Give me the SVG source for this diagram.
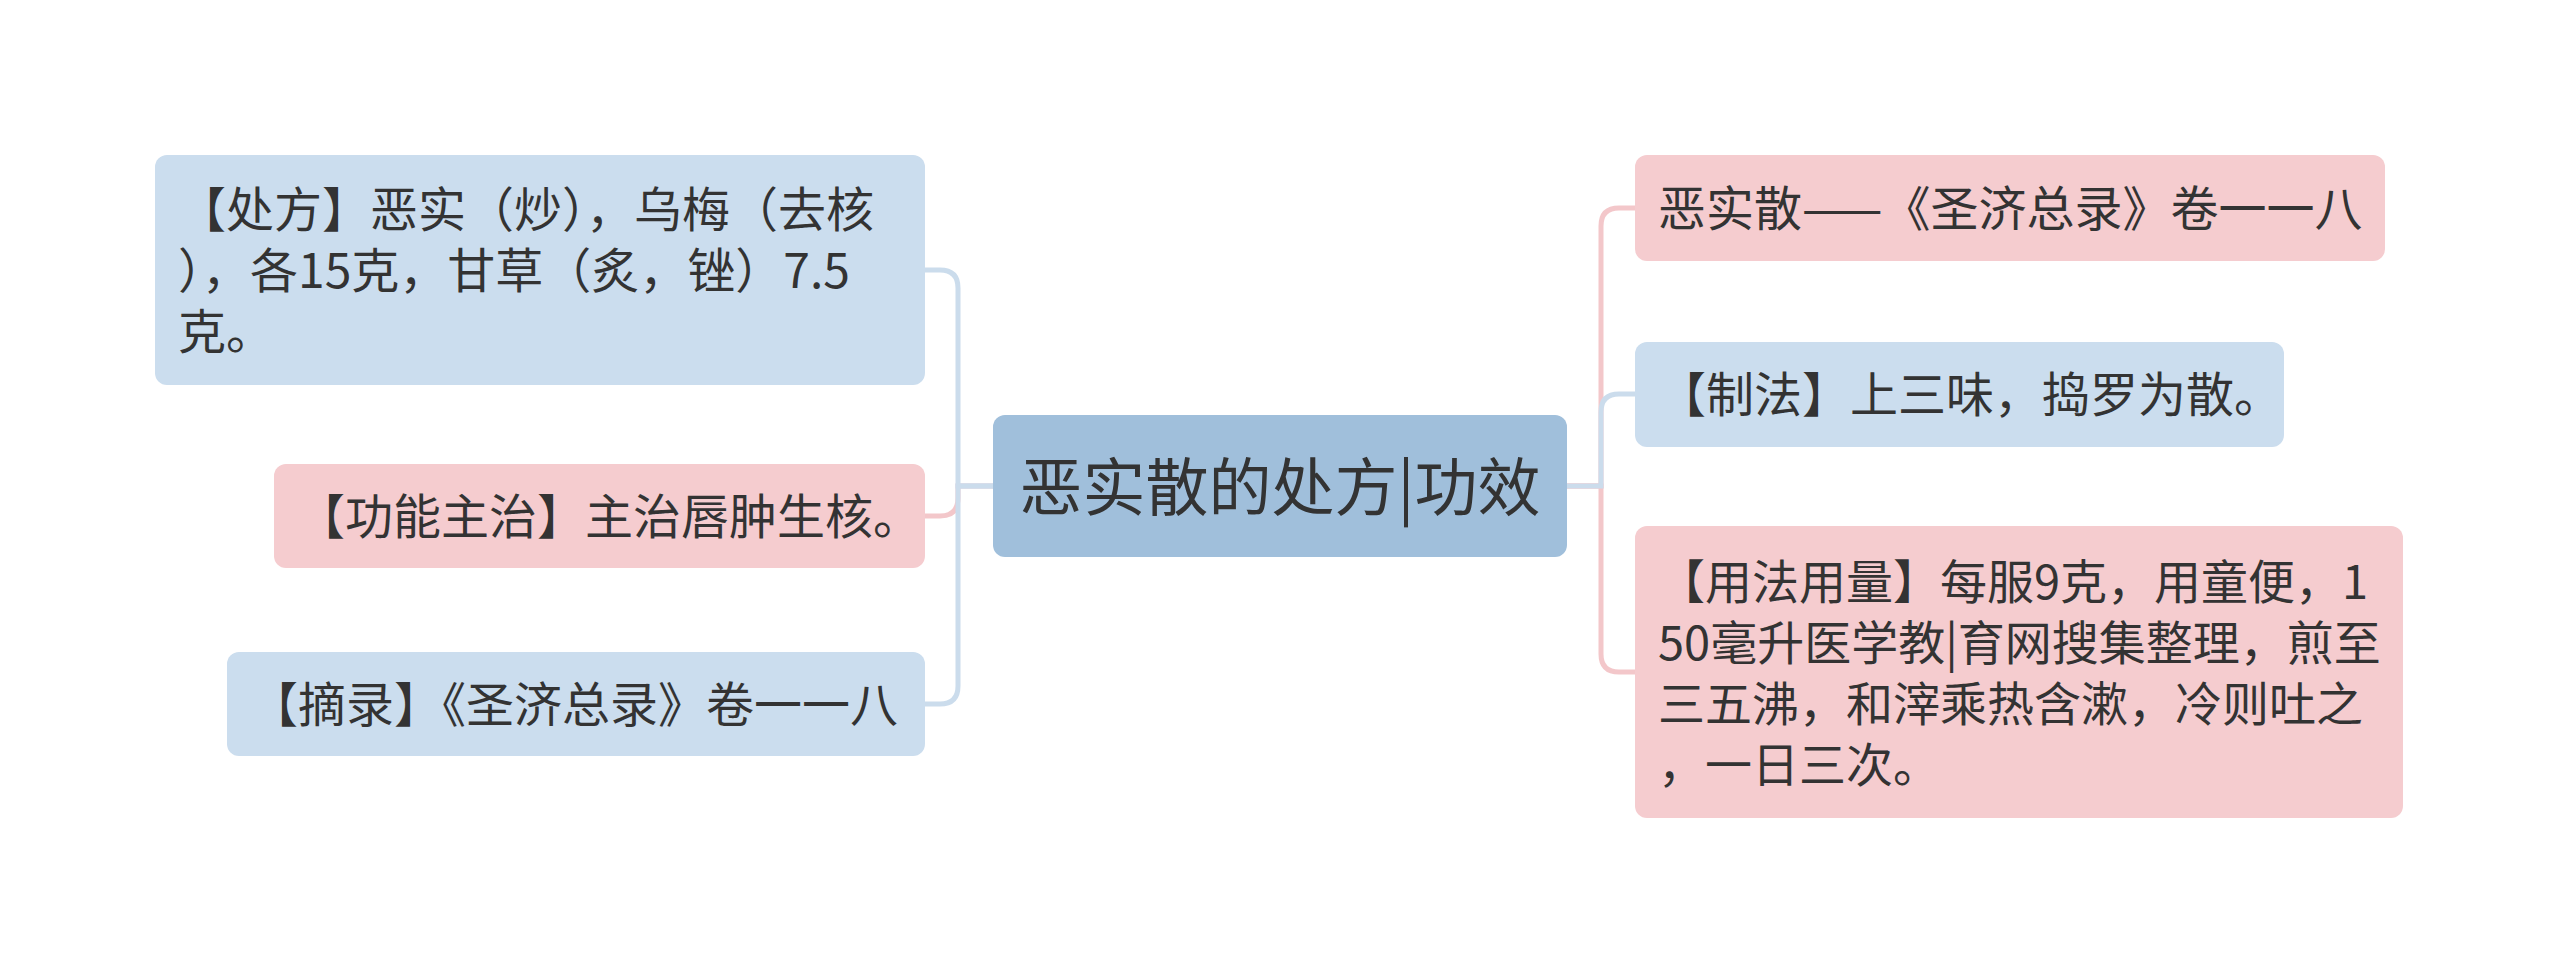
<svg xmlns="http://www.w3.org/2000/svg" width="2560" height="977" viewBox="0 0 2560 977">
<style>
.blue{fill:#cbddee}
.pink{fill:#f5cccf}
.root{fill:#a0bfdb}
.t{font-family:"Noto Sans CJK SC","Noto Sans",sans-serif;font-size:48px;fill:#333333}
.tr{font-family:"Noto Sans CJK SC","Noto Sans",sans-serif;font-size:63px;fill:#333333}
.cb{fill:none;stroke:#cbdcec;stroke-width:5}
.cp{fill:none;stroke:#f3c7ca;stroke-width:5}
</style>
<rect width="2560" height="977" fill="#ffffff"/>
<g id="connectors">
<path class="cp" d="M993 486 H958 V498 Q958 516 940 516 H925"/>
<path class="cb" d="M993 486 H958 V288 Q958 270 940 270 H925"/>
<path class="cb" d="M993 486 H958 V686 Q958 704 940 704 H925"/>
<path class="cp" d="M1567 486 H1601 V226 Q1601 208 1619 208 H1635"/>
<path class="cp" d="M1567 486 H1601 V654 Q1601 672 1619 672 H1635"/>
<path class="cb" d="M1567 486 H1601 V412 Q1601 394 1619 394 H1635"/>
</g>
<g id="root">
<rect class="root" x="993" y="415" width="574" height="142" rx="12"/>
<text class="tr" x="1280" y="510" text-anchor="middle">恶实散的处方|功效</text>
</g>
<g id="node-l1">
<rect class="blue" x="155" y="155" width="770" height="230" rx="12"/>
<text class="t"><tspan x="178" y="227">【处方】恶实（炒），乌梅（去核</tspan><tspan x="178" y="288">），各15克，甘草（炙，锉）7.5</tspan><tspan x="178" y="349">克。</tspan></text>
</g>
<g id="node-l2">
<rect class="pink" x="274" y="464" width="651" height="104" rx="12"/>
<text class="t" x="297" y="534">【功能主治】主治唇肿生核。</text>
</g>
<g id="node-l3">
<rect class="blue" x="227" y="652" width="698" height="104" rx="12"/>
<text class="t" x="250" y="722">【摘录】《圣济总录》卷一一八</text>
</g>
<g id="node-r1">
<rect class="pink" x="1635" y="155" width="750" height="106" rx="12"/>
<text class="t" x="1658" y="226">恶实散——《圣济总录》卷一一八</text>
</g>
<g id="node-r2">
<rect class="blue" x="1635" y="342" width="649" height="105" rx="12"/>
<text class="t" x="1658" y="412">【制法】上三味，捣罗为散。</text>
</g>
<g id="node-r3">
<rect class="pink" x="1635" y="526" width="768" height="292" rx="12"/>
<text class="t" style="font-size:47px"><tspan x="1658" y="599">【用法用量】每服9克，用童便，1</tspan><tspan x="1658" y="660">50毫升医学教|育网搜集整理，煎至</tspan><tspan x="1658" y="721">三五沸，和滓乘热含漱，冷则吐之</tspan><tspan x="1658" y="782">，一日三次。</tspan></text>
</g>
</svg>
